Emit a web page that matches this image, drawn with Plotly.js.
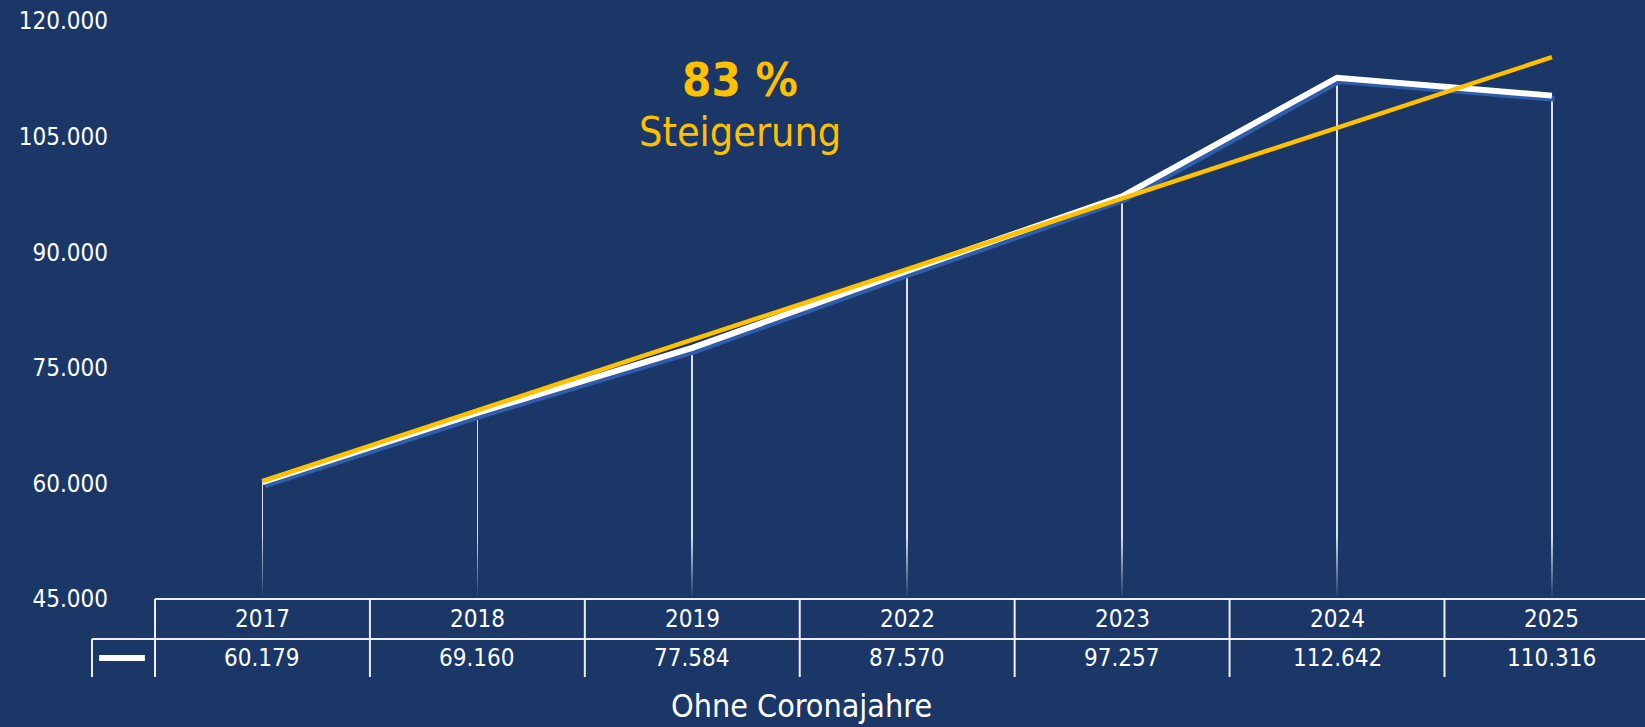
<!DOCTYPE html>
<html>
<head>
<meta charset="utf-8">
<script src="https://cdn.plot.ly/plotly-3.0.1.min.js"></script>
<style>
  html, body { margin: 0; padding: 0; background: #1b3768; }
  #chart { width: 1645px; height: 727px; }
</style>
</head>
<body>
<div id="chart"></div>
<script>
// ---- data ----
const years = ['2017', '2018', '2019', '2022', '2023', '2024', '2025'];
const values = [60179, 69160, 77584, 87570, 97257, 112642, 110316];
const trendYears = ['2017', '2025'];
const trendValues = [60300, 115300];
const yTicks = [45000, 60000, 75000, 90000, 105000, 120000];
const headline = '83 %';
const subline = 'Steigerung';
const footer = 'Ohne Coronajahre';

// ---- style ----
const BG = '#1b3768';
const GOLD = '#ffc000';
const SHADOW = '#2f5cab';
const FONT = 'DejaVu Sans Condensed, DejaVu Sans, sans-serif';

const xRange = [-0.5, 6.433];
const yRange = [45000, 120000];
const dx = 0.012;   // shadow offset (category units)
const dy = 420;     // shadow offset (value units)

const fmt = v => String(v).replace(/\B(?=(\d{3})+(?!\d))/g, '.');
const xPaper = c => (c - xRange[0]) / (xRange[1] - xRange[0]);

// table geometry (paper y)
const rowTop = 0, rowMid = -0.0692, rowBot = -0.135;
const headerY = -0.035, valueY = -0.102;

const traces = [
  // drop lines
  {
    type: 'bar', x: years, y: values, width: 0.008,
    marker: { color: 'rgba(255,255,255,0.85)', line: { width: 0 } },
    xaxis: 'x', yaxis: 'y', hoverinfo: 'skip', showlegend: false
  },
  // blue shadow
  {
    type: 'scatter', mode: 'lines', x: years, y: values,
    line: { color: SHADOW, width: 6 },
    xaxis: 'x2', yaxis: 'y2', hoverinfo: 'skip', showlegend: false
  },
  // main white line
  {
    type: 'scatter', mode: 'lines', x: years, y: values,
    line: { color: '#ffffff', width: 6 },
    xaxis: 'x3', yaxis: 'y3', showlegend: false
  },
  // trend line
  {
    type: 'scatter', mode: 'lines', x: trendYears, y: trendValues,
    line: { color: GOLD, width: 4.5 },
    xaxis: 'x3', yaxis: 'y3', showlegend: false
  }
];

const shapes = [];
const lineStyle = { color: 'rgba(255,255,255,0.92)', width: 2 };
// horizontal table lines
shapes.push({ type: 'line', xref: 'paper', yref: 'paper', x0: 0, x1: 1.02, y0: rowTop, y1: rowTop, line: lineStyle });
shapes.push({ type: 'line', xref: 'paper', yref: 'paper', x0: -0.0423, x1: 1.02, y0: rowMid, y1: rowMid, line: lineStyle });
// vertical table lines at column borders
years.forEach((y, i) => {
  const xp = xPaper(i - 0.5);
  shapes.push({ type: 'line', xref: 'paper', yref: 'paper', x0: xp, x1: xp, y0: rowTop, y1: rowBot, line: lineStyle });
});
// legend cell left border
shapes.push({ type: 'line', xref: 'paper', yref: 'paper', x0: -0.0423, x1: -0.0423, y0: rowMid, y1: rowBot, line: lineStyle });
// legend sample
shapes.push({ type: 'line', xref: 'paper', yref: 'paper', x0: -0.0375, x1: -0.0068, y0: valueY, y1: valueY, line: { color: '#ffffff', width: 6 } });

const annotations = [];
years.forEach((y, i) => {
  annotations.push({ xref: 'x', yref: 'paper', x: i, y: headerY, text: y, showarrow: false,
    xanchor: 'center', yanchor: 'middle', font: { family: FONT, size: 24, color: '#ffffff' } });
  annotations.push({ xref: 'x', yref: 'paper', x: i, y: valueY, text: fmt(values[i]), showarrow: false,
    xanchor: 'center', yanchor: 'middle', font: { family: FONT, size: 24, color: '#ffffff' } });
});
annotations.push({ xref: 'paper', yref: 'paper', x: 0.3926, y: 0.898, text: '<b>' + headline + '</b>', showarrow: false,
  xanchor: 'center', yanchor: 'middle', font: { family: FONT, size: 47, color: GOLD } });
annotations.push({ xref: 'paper', yref: 'paper', x: 0.3926, y: 0.808, text: subline, showarrow: false,
  xanchor: 'center', yanchor: 'middle', font: { family: FONT, size: 41, color: GOLD } });
annotations.push({ xref: 'paper', yref: 'paper', x: 0.4342, y: -0.185, text: footer, showarrow: false,
  xanchor: 'center', yanchor: 'middle', font: { family: FONT, size: 32, color: '#ffffff' } });

const fadeSvg = "<svg xmlns='http://www.w3.org/2000/svg' width='10' height='10' preserveAspectRatio='none'>" +
  "<defs><linearGradient id='g' x1='0' y1='0' x2='0' y2='1'>" +
  "<stop offset='0' stop-color='" + BG + "' stop-opacity='0'/>" +
  "<stop offset='1' stop-color='" + BG + "' stop-opacity='1'/>" +
  "</linearGradient></defs><rect width='10' height='10' fill='url(#g)'/></svg>";

const hiddenX = { type: 'category', categoryorder: 'array', categoryarray: years, visible: false, fixedrange: true };

const layout = {
  width: 1645, height: 727,
  margin: { l: 155, r: 0, t: 21, b: 128, pad: 0 },
  paper_bgcolor: BG, plot_bgcolor: BG,
  separators: ',.',
  showlegend: false,
  xaxis: Object.assign({}, hiddenX, { range: xRange }),
  xaxis2: Object.assign({}, hiddenX, { range: [xRange[0] - dx, xRange[1] - dx], overlaying: 'x', anchor: 'y2' }),
  xaxis3: Object.assign({}, hiddenX, { range: xRange, overlaying: 'x', anchor: 'y3' }),
  yaxis: {
    range: yRange, tickvals: yTicks, tickformat: ',.0f',
    showgrid: false, zeroline: false, showline: false, ticks: '',
    ticklabelstandoff: 46,
    tickfont: { family: FONT, size: 24, color: '#ffffff' }, fixedrange: true
  },
  yaxis2: { range: [yRange[0] + dy, yRange[1] + dy], overlaying: 'y', anchor: 'x2', visible: false, fixedrange: true },
  yaxis3: { range: yRange, overlaying: 'y', anchor: 'x3', visible: false, fixedrange: true },
  bargap: 0,
  shapes: shapes,
  annotations: annotations,
  images: [{
    source: 'data:image/svg+xml;charset=utf-8,' + encodeURIComponent(fadeSvg),
    xref: 'paper', yref: 'paper', x: 0, y: 0.11, sizex: 1, sizey: 0.11,
    xanchor: 'left', yanchor: 'top', sizing: 'stretch', layer: 'above'
  }]
};

Plotly.newPlot('chart', traces, layout, { displayModeBar: false, staticPlot: true });
</script>
</body>
</html>
